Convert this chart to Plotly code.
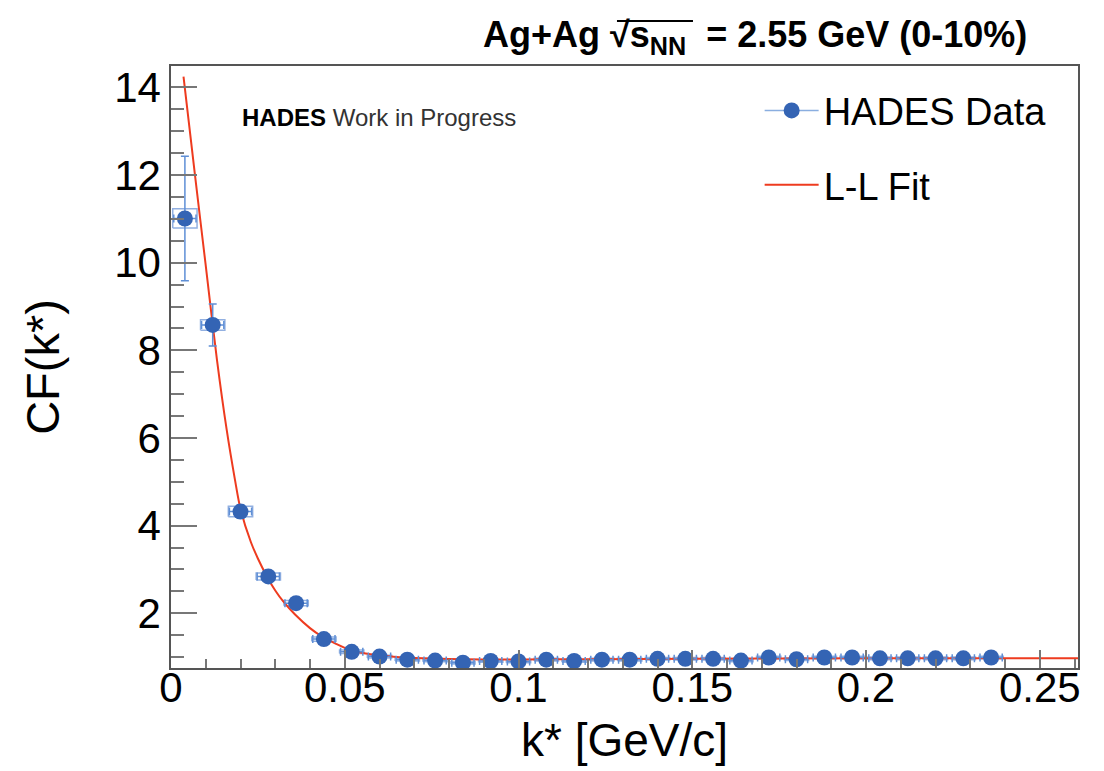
import plotly.graph_objects as go

# ---- data ----
k_star = [0.004, 0.012, 0.020, 0.028, 0.036, 0.044, 0.052, 0.060, 0.068, 0.076,
          0.084, 0.092, 0.100, 0.108, 0.116, 0.124, 0.132, 0.140, 0.148, 0.156,
          0.164, 0.172, 0.180, 0.188, 0.196, 0.204, 0.212, 0.220, 0.228, 0.236]
cf_data = [11.01, 8.58, 4.32, 2.84, 2.23, 1.41, 1.12, 1.01, 0.94, 0.92,
           0.87, 0.91, 0.90, 0.94, 0.91, 0.94, 0.94, 0.96, 0.96, 0.96,
           0.92, 0.99, 0.95, 0.99, 0.99, 0.97, 0.97, 0.97, 0.97, 0.99]
cf_stat = [1.42, 0.48, 0.15, 0.08, 0.07, 0.05, 0.04, 0.03, 0.03, 0.03,
           0.03, 0.03, 0.03, 0.03, 0.03, 0.03, 0.03, 0.03, 0.03, 0.03,
           0.03, 0.03, 0.03, 0.03, 0.03, 0.03, 0.03, 0.03, 0.03, 0.03]
cf_syst = [0.22, 0.12, 0.12, 0.08, 0.06, 0.05, 0.04, 0.03, 0.03, 0.03,
           0.03, 0.03, 0.03, 0.03, 0.03, 0.03, 0.03, 0.03, 0.03, 0.03,
           0.03, 0.03, 0.03, 0.03, 0.03, 0.03, 0.03, 0.03, 0.03, 0.03]

fit_k = [0.0036, 0.0069, 0.0099, 0.0132, 0.0160, 0.0184, 0.0200, 0.0230,
         0.0250, 0.0276, 0.0300, 0.0323, 0.0357, 0.0400, 0.0434, 0.0475,
         0.0515, 0.0560, 0.0600, 0.0650, 0.0700, 0.0800, 0.0900, 0.1000,
         0.1200, 0.1500, 0.2000, 0.2610]
fit_cf = [14.25, 12.0, 10.0, 7.8, 6.2, 5.05, 4.38, 3.62,
          3.25, 2.84, 2.52, 2.27, 1.97, 1.66, 1.47, 1.30,
          1.16, 1.08, 1.04, 1.00, 0.98, 0.955, 0.945, 0.945,
          0.95, 0.96, 0.97, 0.975]

x_ticks = [0, 0.05, 0.1, 0.15, 0.2, 0.25]
x_ticklabels = ["0", "0.05", "0.1", "0.15", "0.2", "0.25"]
y_ticks = [2, 4, 6, 8, 10, 12, 14]
y_ticklabels = ["2", "4", "6", "8", "10", "12", "14"]

# ---- style ----
FONT = "Liberation Sans, Arial, sans-serif"
BLUE = "#3464b4"
ERR_BLUE = "#5f8fd6"
BOX_BLUE = "rgba(110,150,215,0.75)"
RED = "#ee3b1f"
KX_HALF = 0.0032
BOX_HALF = 0.0035

# systematic boxes built from the data arrays
box_x, box_y = [], []
for xi, yi, si in zip(k_star, cf_data, cf_syst):
    box_x += [xi - BOX_HALF, xi + BOX_HALF, xi + BOX_HALF, xi - BOX_HALF, xi - BOX_HALF, None]
    box_y += [yi - si, yi - si, yi + si, yi + si, yi - si, None]

fig = go.Figure()

fig.add_trace(go.Scatter(
    x=box_x, y=box_y, mode="lines",
    line=dict(color=BOX_BLUE, width=1.5),
    hoverinfo="skip", showlegend=False,
))

fig.add_trace(go.Scatter(
    x=fit_k, y=fit_cf, mode="lines", name="L-L Fit",
    line=dict(color=RED, width=2, shape="spline", smoothing=0.8),
    legendgroup="fit", legendrank=2,
))

fig.add_trace(go.Scatter(
    x=k_star, y=cf_data, mode="markers", name="HADES Data",
    marker=dict(color=BLUE, size=16),
    error_y=dict(type="data", array=cf_stat, color=ERR_BLUE, thickness=1.5, width=4),
    error_x=dict(type="constant", value=KX_HALF, color=ERR_BLUE, thickness=1.5, width=4),
    showlegend=False,
))

# legend entry for the data (line + marker symbol)
fig.add_trace(go.Scatter(
    x=[None], y=[None], mode="lines+markers", name="HADES Data",
    line=dict(color="#8aaee0", width=1.5),
    marker=dict(color=BLUE, size=16),
    legendgroup="data", legendrank=1,
))

axis_common = dict(
    showline=True, linecolor="#555555", linewidth=1.5, mirror=True,
    showgrid=False, zeroline=False,
    ticks="inside", tickcolor="#777777", tickwidth=1.5,
    tickfont=dict(family=FONT, size=42, color="black"),
)

fig.update_xaxes(
    range=[0, 0.261], tickvals=x_ticks, ticktext=x_ticklabels, ticklen=18,
    ticklabelstandoff=-18,
    minor=dict(dtick=0.01, ticks="inside", ticklen=9, tickcolor="#777777", tickwidth=1.5),
    title=dict(text="k* [GeV/c]", font=dict(family=FONT, size=46, color="black"), standoff=14),
    **axis_common,
)
fig.update_yaxes(
    range=[0.75, 14.49], tickvals=y_ticks, ticktext=y_ticklabels, ticklen=26,
    minor=dict(dtick=0.5, ticks="inside", ticklen=13, tickcolor="#777777", tickwidth=1.5),
    title=dict(text="CF(k*)", font=dict(family=FONT, size=47, color="black"), standoff=40),
    **axis_common,
)

fig.add_annotation(
    xref="paper", yref="paper", x=0.644, y=1.048, xanchor="center", yanchor="middle",
    text="<b>Ag+Ag √s<sub>NN</sub>  = 2.55 GeV (0-10%)</b>",
    showarrow=False, font=dict(family=FONT, size=36, color="black"),
)
# overline of the square root
fig.add_shape(
    type="line", xref="paper", yref="paper",
    x0=0.4917, x1=0.5755, y0=1.0748, y1=1.0748,
    line=dict(color="black", width=2),
)
fig.add_annotation(
    xref="paper", yref="paper", x=0.076, y=0.915, xanchor="left", yanchor="middle",
    text="<b>HADES</b> <span style='color:#333333'>Work in Progress</span>",
    showarrow=False, font=dict(family=FONT, size=24, color="black"),
)

fig.update_layout(
    width=1104, height=771,
    margin=dict(l=171, r=26, t=66, b=103, autoexpand=False),
    paper_bgcolor="white", plot_bgcolor="white",
    legend=dict(
        x=0.649, y=0.978, xanchor="left", yanchor="top",
        font=dict(family=FONT, size=38, color="black"),
        bgcolor="rgba(0,0,0,0)", tracegroupgap=22, itemwidth=54,
    ),
)

fig.write_html("out.html", config={"displayModeBar": False},
               post_script="document.body.style.margin='0';")
